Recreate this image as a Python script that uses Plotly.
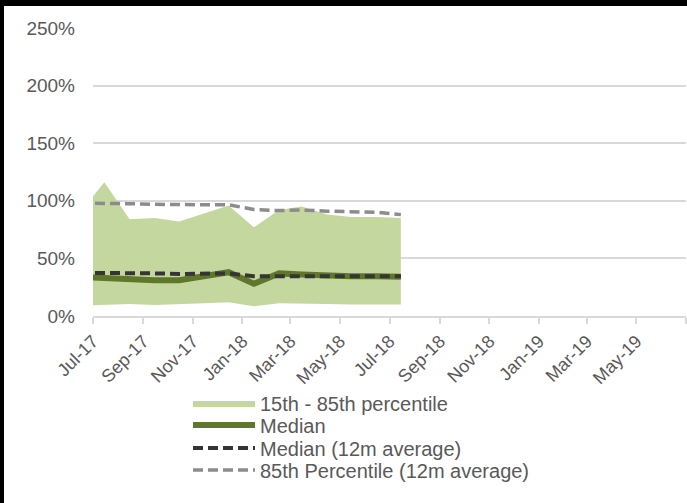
import plotly.graph_objects as go

# Data (percent), sampled mid-month; the June-17 point is clipped by the axis start
dates = ["2017-06-15", "2017-07-15", "2017-08-15", "2017-09-15", "2017-10-15",
         "2017-11-15", "2017-12-15", "2018-01-15", "2018-02-15", "2018-03-15",
         "2018-04-15", "2018-05-15", "2018-06-15", "2018-07-15"]
p85 = [90, 116, 84, 85, 82, 89, 96, 77, 92, 95, 88, 86, 86, 85]
p15 = [9, 10, 10.5, 9.5, 10, 11, 12, 8.5, 11, 11, 10.5, 10, 10, 10]
median = [34, 33, 31.5, 31, 31, 34, 38, 28, 37, 36, 35, 34.5, 34.5, 34]
median_avg = [37.5, 37.5, 37.5, 37, 36.5, 36.5, 37, 34.5, 34.5, 35, 34.5, 34.5, 34.5, 34.5]
p85_avg = [98, 98, 97.5, 97, 96.5, 96.5, 96.5, 92.5, 91.5, 92, 91, 90.5, 90, 88]

tick_dates = ["2017-07-01", "2017-09-01", "2017-11-01", "2018-01-01", "2018-03-01",
              "2018-05-01", "2018-07-01", "2018-09-01", "2018-11-01", "2019-01-01",
              "2019-03-01", "2019-05-01", "2019-07-01"]
tick_labels = ["Jul-17", "Sep-17", "Nov-17", "Jan-18", "Mar-18", "May-18", "Jul-18",
               "Sep-18", "Nov-18", "Jan-19", "Mar-19", "May-19", ""]
y_ticks = [0, 50, 100, 150, 200, 250]
y_labels = ["0%", "50%", "100%", "150%", "200%", "250%"]

FONT = "Liberation Sans, Arial, sans-serif"
TXT = "#595959"
GRID = "#d9d9d9"

W, H = 687, 503
ml, mr, mt, mb = 93, 1, 28, 187
pw, ph = W - ml - mr, H - mt - mb

def px_x(px):
    return (px - ml) / pw

def px_y(py):
    return (H - mb - py) / ph

fig = go.Figure()
fig.add_trace(go.Scatter(x=dates, y=p15, mode="lines", line=dict(width=0),
                         showlegend=False, hoverinfo="skip"))
fig.add_trace(go.Scatter(x=dates, y=p85, mode="lines", line=dict(width=0),
                         fill="tonexty", fillcolor="rgb(196,215,158)",
                         name="15th - 85th percentile", legend="legend"))
fig.add_trace(go.Scatter(x=dates, y=p85_avg, mode="lines",
                         line=dict(color="#8c8c8c", width=3.5, dash="10px,5px"),
                         name="85th Percentile (12m average)", legend="legend4"))
fig.add_trace(go.Scatter(x=dates, y=median, mode="lines",
                         line=dict(color="#5f772b", width=6),
                         name="Median", legend="legend2"))
fig.add_trace(go.Scatter(x=dates, y=median_avg, mode="lines",
                         line=dict(color="#353535", width=4, dash="10px,5px"),
                         name="Median (12m average)", legend="legend3"))

row_y = [403, 425, 448, 470]

def legend_cfg(py):
    return dict(x=px_x(188), y=px_y(py), xanchor="left", yanchor="middle",
                orientation="v", itemwidth=62, tracegroupgap=0,
                bgcolor="rgba(0,0,0,0)", traceorder="normal",
                font=dict(family=FONT, size=20, color=TXT))

fig.update_layout(
    width=W, height=H,
    margin=dict(l=ml, r=mr, t=mt, b=mb),
    paper_bgcolor="white", plot_bgcolor="white",
    font=dict(family=FONT, size=17, color=TXT),
    xaxis=dict(type="date", range=["2017-07-01", "2019-07-01"],
               tickvals=tick_dates, ticktext=tick_labels, tickangle=-45,
               ticks="outside", ticklen=6, tickcolor=GRID, tickwidth=1.5,
               showline=True, linecolor=GRID, linewidth=1.5,
               showgrid=False, zeroline=False,
               tickfont=dict(family=FONT, size=18, color=TXT)),
    yaxis=dict(range=[0, 250], tickvals=y_ticks, ticktext=y_labels,
               showgrid=True, gridcolor=GRID, gridwidth=1.5,
               zeroline=False, showline=False, ticks="",
               ticklabelstandoff=17,
               tickfont=dict(family=FONT, size=19, color=TXT)),
    legend=legend_cfg(row_y[0]),
    legend2=legend_cfg(row_y[1]),
    legend3=legend_cfg(row_y[2]),
    legend4=legend_cfg(row_y[3]),
    shapes=[
        dict(type="rect", xref="paper", yref="paper",
             x0=px_x(0), x1=px_x(W), y0=px_y(6), y1=px_y(0),
             fillcolor="black", line=dict(width=0), layer="above"),
        dict(type="rect", xref="paper", yref="paper",
             x0=px_x(0), x1=px_x(4), y0=px_y(H), y1=px_y(0),
             fillcolor="black", line=dict(width=0), layer="above"),
    ],
)

fig.write_html("out.html")
